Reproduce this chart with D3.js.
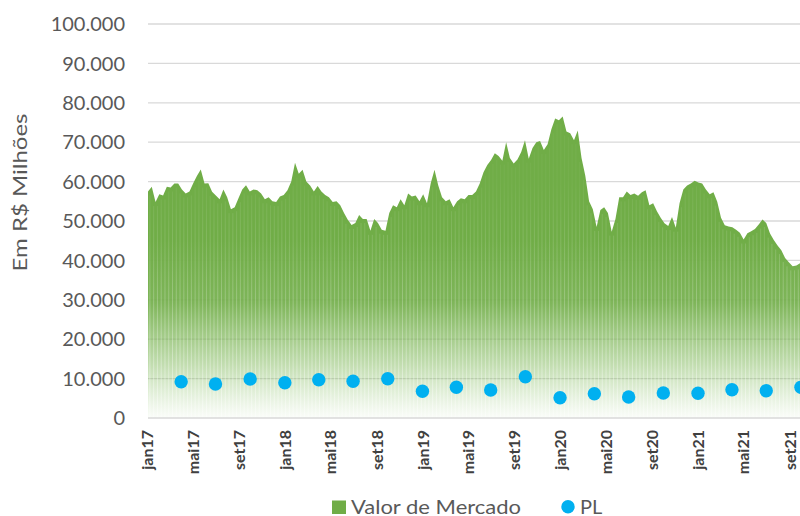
<!DOCTYPE html>
<html>
<head>
<meta charset="utf-8">
<script src="https://cdn.jsdelivr.net/npm/d3@7"></script>
<style>
  body { margin: 0; background: #fff; }
  svg { display: block; font-family: Lato, "Open Sans", sans-serif; }
</style>
</head>
<body>
<div id="grafico"></div>
<script>
// Valor de mercado (R$ milhoes), uma leitura a cada 10 dias a partir de 02/01/2017
var inicio = new Date(2017, 0, 2);
var passoDias = 10;
var valorMercado = [
  57500, 58700, 54800, 56800, 56500, 58700, 58500, 59500, 59500, 58000,
  57000, 57500, 59600, 61500, 63100, 59500, 59600, 57400, 56500, 55500,
  58000, 56000, 53000, 53500, 55800, 58000, 59100, 57500, 58000, 57800,
  57000, 55500, 56000, 55000, 54800, 56200, 56600, 57800, 60000, 64800,
  62000, 63000, 60000, 59000, 57500, 58900, 57500, 56600, 56000, 54800,
  55000, 54000, 52000, 50300, 49000, 49500, 51500, 50500, 50500, 47500,
  50500, 49500, 47800, 47500, 52000, 54000, 53500, 55500, 54000, 57000,
  56200, 56500, 55000, 56800, 54500, 59600, 63000, 59000, 56000, 55000,
  55500, 53500, 55000, 55800, 55500, 56600, 56600, 57500, 59500, 62400,
  64200, 65500, 67200, 66500, 65300, 70000, 66000, 64600, 65600, 67500,
  70500, 65800, 68500, 70000, 70300, 68000, 69500, 73300, 76000, 75600,
  76500, 72700, 72300, 70500, 73000, 66000, 61500, 55000, 53000, 48500,
  52800, 53500, 52000, 47300, 50500, 56000, 56000, 57500, 56600, 57000,
  56400, 57300, 57800, 54000, 54500, 52500, 50800, 49400, 48700, 51000,
  48300, 54500, 58000, 59000, 59500, 60200, 59800, 59500, 58000, 56800,
  57300, 54900, 50800, 48900, 48600, 48400, 47800, 47000, 45300, 46900,
  47400, 48000, 49100, 50400, 49500, 46800, 45200, 43800, 42600, 40600,
  39500, 38500, 38700, 39300, 39000
];

// PL trimestral (R$ milhoes)
var datasPL = [
  "2017-03-31", "2017-06-30", "2017-09-30", "2017-12-31",
  "2018-03-31", "2018-06-30", "2018-09-30", "2018-12-31",
  "2019-03-31", "2019-06-30", "2019-09-30", "2019-12-31",
  "2020-03-31", "2020-06-30", "2020-09-30", "2020-12-31",
  "2021-03-31", "2021-06-30", "2021-09-30"
];
var valoresPL = [
  9200, 8630, 9900, 8960,
  9720, 9310, 9970, 6780,
  7790, 7110, 10480, 5150,
  6170, 5330, 6350, 6270,
  7180, 6930, 7790
];

// rotulos do eixo x
var rotulosX = ["jan17", "mai17", "set17", "jan18", "mai18", "set18", "jan19",
                "mai19", "set19", "jan20", "mai20", "set20", "jan21", "mai21", "set21"];
var meses = ["jan", "fev", "mar", "abr", "mai", "jun", "jul", "ago", "set", "out", "nov", "dez"];
var ticksY = [0, 10000, 20000, 30000, 40000, 50000, 60000, 70000, 80000, 90000, 100000];

var W = 800, H = 516;
var plotLeft = 148, plotRight = 790, plotTop = 24, plotBottom = 418;

var svg = d3.select("#grafico").append("svg")
    .attr("width", W)
    .attr("height", H);

var parse = d3.timeParse("%Y-%m-%d");

function rotuloParaData(r) {
    return new Date(2000 + (+r.slice(3)), meses.indexOf(r.slice(0, 3)), 1);
}

var x = d3.scaleTime()
    .domain([inicio, rotuloParaData(rotulosX[rotulosX.length - 1])])
    .range([plotLeft, plotRight]);

var y = d3.scaleLinear()
    .domain([0, 100000])
    .range([plotBottom, plotTop]);

var br = d3.formatLocale({decimal: ",", thousands: ".", grouping: [3], currency: ["R$", ""]});
var fmt = br.format(",.0f");

// gradiente (verde em cima, quase branco embaixo)
var defs = svg.append("defs");
var grad = defs.append("linearGradient")
    .attr("id", "gradVerde")
    .attr("gradientUnits", "userSpaceOnUse")
    .attr("x1", 0).attr("x2", 0)
    .attr("y1", y(45000)).attr("y2", y(0));
grad.append("stop").attr("offset", 0).attr("stop-color", "#70AD47").attr("stop-opacity", 1);
grad.append("stop").attr("offset", 0.35).attr("stop-color", "#70AD47").attr("stop-opacity", 0.9);
grad.append("stop").attr("offset", 0.7).attr("stop-color", "#78B450").attr("stop-opacity", 0.45);
grad.append("stop").attr("offset", 1).attr("stop-color", "#8CC46A").attr("stop-opacity", 0.04);

// gradiente dos riscos claros (mais fortes embaixo)
var gradRisco = defs.append("linearGradient")
    .attr("id", "gradRisco")
    .attr("gradientUnits", "userSpaceOnUse")
    .attr("x1", 0).attr("x2", 0)
    .attr("y1", y(60000)).attr("y2", y(0));
gradRisco.append("stop").attr("offset", 0).attr("stop-color", "#fff").attr("stop-opacity", 0.05);
gradRisco.append("stop").attr("offset", 0.5).attr("stop-color", "#fff").attr("stop-opacity", 0.3);
gradRisco.append("stop").attr("offset", 1).attr("stop-color", "#fff").attr("stop-opacity", 0.55);

defs.append("clipPath").attr("id", "clipArea")
    .append("rect").attr("x", plotLeft).attr("y", 0).attr("width", W - plotLeft).attr("height", plotBottom);

// linhas de grade
svg.append("g")
    .selectAll("line")
    .data(ticksY.filter(function(d) { return d > 0; }))
    .enter()
    .append("line")
    .attr("x1", plotLeft).attr("x2", W)
    .attr("y1", function(d) { return y(d); })
    .attr("y2", function(d) { return y(d); })
    .attr("stroke", "#D9D9D9")
    .attr("stroke-width", 1.3);

// valor de mercado
var dados = valorMercado.map(function(v, i) {
    return {data: d3.timeDay.offset(inicio, i * passoDias), valor: v};
});

var area = d3.area()
    .x(function(d) { return x(d.data); })
    .y0(y(0))
    .y1(function(d) { return y(d.valor); });

var gMercado = svg.append("g").attr("clip-path", "url(#clipArea)");

gMercado.append("path")
    .datum(dados)
    .attr("d", area)
    .attr("fill", "url(#gradVerde)");

// riscos verticais claros (efeito das barras diarias)
gMercado.selectAll("line")
    .data(dados)
    .enter()
    .append("line")
    .attr("x1", function(d) { return x(d.data) + 1.9; })
    .attr("x2", function(d) { return x(d.data) + 1.9; })
    .attr("y1", y(0))
    .attr("y2", function(d, i) { return y(Math.min(d.valor, (dados[i + 1] || d).valor)) + 4; })
    .attr("stroke", "url(#gradRisco)")
    .attr("stroke-width", 0.8);

// eixo x (linha)
svg.append("line")
    .attr("x1", plotLeft).attr("x2", W)
    .attr("y1", plotBottom).attr("y2", plotBottom)
    .attr("stroke", "#D9D9D9")
    .attr("stroke-width", 1.5);

// pontos do PL
svg.append("g")
    .selectAll("circle")
    .data(datasPL)
    .enter()
    .append("circle")
    .attr("cx", function(d) { return x(parse(d)); })
    .attr("cy", function(d, i) { return y(valoresPL[i]); })
    .attr("r", 6.7)
    .attr("fill", "#00B0F0");

// rotulos do eixo y
svg.append("g")
    .selectAll("text")
    .data(ticksY)
    .enter()
    .append("text")
    .attr("x", 125)
    .attr("y", function(d) { return y(d); })
    .attr("dy", "0.36em")
    .attr("text-anchor", "end")
    .attr("font-size", 20)
    .attr("fill", "#595959")
    .text(function(d) { return fmt(d); });

// rotulos do eixo x
svg.append("g")
    .selectAll("text")
    .data(rotulosX)
    .enter()
    .append("text")
    .attr("transform", function(d) {
        return "translate(" + x(rotuloParaData(d)) + "," + 430 + ") rotate(-90)";
    })
    .attr("dy", "0.36em")
    .attr("text-anchor", "end")
    .attr("font-size", 16)
    .attr("font-weight", "bold")
    .attr("fill", "#404040")
    .text(function(d) { return d; });

// titulo do eixo y
svg.append("text")
    .attr("transform", "translate(27,192.5) rotate(-90)")
    .attr("text-anchor", "middle")
    .attr("font-size", 19)
    .attr("fill", "#595959")
    .attr("textLength", 158)
    .attr("lengthAdjust", "spacingAndGlyphs")
    .text("Em R$ Milhões");

// legenda
var leg = svg.append("g");
leg.append("rect")
    .attr("x", 332).attr("y", 500.5)
    .attr("width", 14).attr("height", 13.5)
    .attr("fill", "#70AD47");
leg.append("text")
    .attr("x", 351).attr("y", 513.5)
    .attr("font-size", 20)
    .attr("fill", "#595959")
    .attr("textLength", 170)
    .attr("lengthAdjust", "spacingAndGlyphs")
    .text("Valor de Mercado");
leg.append("circle")
    .attr("cx", 568).attr("cy", 506.7)
    .attr("r", 6.7)
    .attr("fill", "#00B0F0");
leg.append("text")
    .attr("x", 580).attr("y", 513.5)
    .attr("font-size", 20)
    .attr("fill", "#595959")
    .text("PL");
</script>
</body>
</html>
